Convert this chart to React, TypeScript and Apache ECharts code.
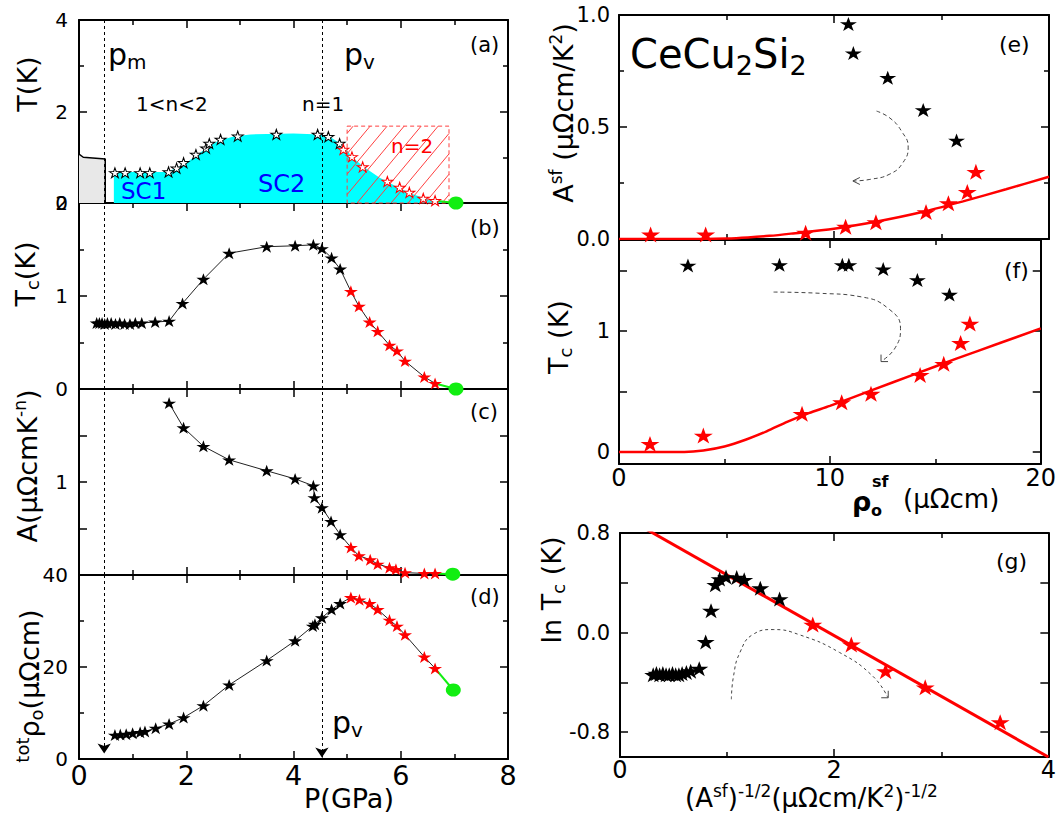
import React, { useEffect, useRef } from 'react';
import * as echarts from 'echarts';

const FF = "'DejaVu Sans', sans-serif";
const PM = 0.47;
const PV = 4.53;

// ---------- (a) phase diagram ----------
const phaseBlackP = [0.67, 0.86, 1.14, 1.32, 1.67, 1.82, 1.95, 2.18, 2.37, 2.43, 2.64, 2.96, 3.68, 4.45, 4.65, 4.86];
const phaseBlackT = [0.66, 0.66, 0.66, 0.66, 0.68, 0.76, 0.88, 1.06, 1.2, 1.3, 1.39, 1.46, 1.5, 1.5, 1.45, 1.3];
const phaseRedP = [4.93, 5.09, 5.29, 5.75, 5.98, 6.16, 6.42, 6.64];
const phaseRedT = [1.17, 1.01, 0.79, 0.47, 0.34, 0.23, 0.1, 0.05];
const scP = [0.65, 1.6, 1.8, 2.0, 2.2, 2.4, 2.6, 2.9, 3.2, 4.0, 4.5, 4.7, 4.9, 5.1, 5.3, 5.6, 5.9, 6.2, 6.5, 6.86];
const scT = [0.68, 0.68, 0.75, 0.88, 1.05, 1.22, 1.36, 1.46, 1.5, 1.52, 1.5, 1.43, 1.28, 1.0, 0.8, 0.56, 0.37, 0.2, 0.08, 0];
const afmP = [0, 0.08, 0.49, 0.49];
const afmT = [1.07, 1.0, 0.96, 0];
const hatchBox = [5.0, 6.9, 1.68];
const endPointA = [7.03, 0];

// ---------- (b) Tc ----------
const tcBlackP = [0.33, 0.38, 0.43, 0.48, 0.53, 0.6, 0.68, 0.76, 0.85, 0.95, 1.05, 1.17, 1.42, 1.68, 1.93, 2.32, 2.8, 3.5, 4.03, 4.37, 4.53, 4.71, 4.87];
const tcBlackT = [0.71, 0.71, 0.71, 0.7, 0.71, 0.71, 0.7, 0.71, 0.7, 0.7, 0.71, 0.71, 0.72, 0.73, 0.92, 1.18, 1.46, 1.53, 1.54, 1.55, 1.51, 1.41, 1.29];
const tcRedP = [5.07, 5.22, 5.42, 5.57, 5.79, 5.93, 6.08, 6.44, 6.64];
const tcRedT = [1.05, 0.89, 0.72, 0.62, 0.47, 0.41, 0.3, 0.13, 0.06];
const endPointB = [7.03, 0];

// ---------- (c) A ----------
const aBlackP = [1.68, 1.95, 2.32, 2.8, 3.5, 4.03, 4.37, 4.39, 4.53, 4.7, 4.87];
const aBlackV = [7.05, 3.83, 2.42, 1.73, 1.32, 1.08, 0.91, 0.68, 0.53, 0.377, 0.272];
const aRedP = [5.07, 5.22, 5.43, 5.57, 5.79, 5.91, 6.08, 6.44, 6.64];
const aRedV = [0.198, 0.161, 0.146, 0.131, 0.12, 0.115, 0.106, 0.104, 0.104];
const endPointC = [6.97, 0.102];

// ---------- (d) rho ----------
const rhoBlackP = [0.67, 0.77, 0.88, 1.0, 1.14, 1.23, 1.43, 1.68, 1.95, 2.32, 2.8, 3.5, 4.03, 4.36, 4.4, 4.53, 4.71, 4.87];
const rhoBlackV = [5.2, 5.3, 5.4, 5.6, 5.8, 6.0, 6.7, 7.6, 9.0, 11.6, 16.1, 21.4, 25.7, 28.9, 29.3, 30.7, 32.5, 33.8];
const rhoRedP = [5.07, 5.23, 5.42, 5.57, 5.79, 5.93, 6.08, 6.44, 6.64];
const rhoRedV = [35.1, 34.6, 33.8, 32.5, 30.2, 28.9, 27.0, 22.2, 19.7];
const endPointD = [6.98, 15.0];

// ---------- (e) A_sf vs rho_sf ----------
const eBlackX = [10.67, 10.9, 12.5, 14.15, 15.7];
const eBlackY = [0.96, 0.83, 0.72, 0.576, 0.44];
const eRedX = [1.47, 4.03, 8.68, 10.54, 11.95, 14.28, 15.32, 16.2, 16.6];
const eRedY = [0.02, 0.02, 0.028, 0.055, 0.075, 0.12, 0.16, 0.21, 0.3];
const eFitX = [0, 2, 4, 5, 6, 7, 8, 10, 12, 14, 16, 18, 20];
const eFitY = [0, 0, 0, 0.002, 0.007, 0.014, 0.024, 0.046, 0.078, 0.118, 0.168, 0.222, 0.278];
const eGuideX = [11.98, 12.6, 13.15, 13.45, 13.2, 12.6, 11.67, 10.9];
const eGuideY = [0.571, 0.54, 0.48, 0.41, 0.34, 0.29, 0.266, 0.259];

// ---------- (f) Tc vs rho_sf ----------
const fBlackX = [3.27, 7.61, 10.59, 10.9, 12.53, 14.15, 15.67];
const fBlackY = [1.54, 1.545, 1.545, 1.545, 1.51, 1.42, 1.3];
const fRedX = [1.47, 4.0, 8.68, 10.56, 11.95, 14.28, 15.4, 16.2, 16.64];
const fRedY = [0.066, 0.135, 0.314, 0.41, 0.48, 0.636, 0.727, 0.9, 1.06];
const fFitX = [0, 3.1, 4, 5, 6, 7, 8, 9, 10, 12, 14, 16, 18, 20];
const fFitY = [0, 0, 0.012, 0.045, 0.1, 0.17, 0.25, 0.32, 0.38, 0.51, 0.64, 0.77, 0.895, 1.02];
const fGuideX = [7.33, 9.5, 11.5, 12.8, 13.35, 13.1, 12.45];
const fGuideY = [1.32, 1.31, 1.28, 1.18, 1.02, 0.86, 0.75];

// ---------- (g) ln Tc vs A^-1/2 ----------
const gBlackX = [0.31, 0.34, 0.37, 0.4, 0.43, 0.46, 0.49, 0.52, 0.55, 0.58, 0.62, 0.66, 0.74, 0.8, 0.85, 0.89, 0.93, 0.99, 1.09, 1.16, 1.31, 1.49];
const gBlackY = [-0.34, -0.33, -0.34, -0.33, -0.34, -0.34, -0.33, -0.34, -0.34, -0.33, -0.32, -0.31, -0.29, -0.075, 0.176, 0.384, 0.43, 0.446, 0.443, 0.424, 0.357, 0.27];
const gRedX = [1.8, 2.16, 2.48, 2.85, 3.55];
const gRedY = [0.064, -0.096, -0.31, -0.44, -0.72];
const gFitX = [0, 4];
const gFitY = [0.95, -1.0];
const gGuideX = [1.04, 1.06, 1.12, 1.24, 1.43, 1.67, 2.05, 2.36, 2.5];
const gGuideY = [-0.536, -0.35, -0.16, -0.016, 0.024, -0.016, -0.16, -0.35, -0.52];

const STAR = 'path://M50,0 L61.2,34.5 L97.6,34.5 L68.2,55.9 L79.4,90.5 L50,69.1 L20.6,90.5 L31.8,55.9 L2.4,34.5 L38.8,34.5 Z';
const RED = '#ff0000';
const GREEN = '#11ee11';

const zip = (xs: number[], ys: number[]) => xs.map((x, i) => [x, ys[i]]);

const grids = [
  { left: 79, top: 20, width: 429, height: 183 },
  { left: 79, top: 203, width: 429, height: 186 },
  { left: 79, top: 389, width: 429, height: 186 },
  { left: 79, top: 575, width: 429, height: 184 },
  { left: 619, top: 15, width: 430, height: 224 },
  { left: 619, top: 240, width: 430, height: 224 },
  { left: 620, top: 533, width: 430, height: 224 },
];

function axisPair(dim: 'x' | 'y', grid: number, cfg: any) {
  const base = (mirror: boolean) => {
    const ax: any = {
      type: cfg.type || 'value',
      gridIndex: grid,
      min: cfg.min,
      max: cfg.max,
      position: dim === 'x' ? (mirror ? 'top' : 'bottom') : mirror ? 'right' : 'left',
      axisLine: { show: true, onZero: false, lineStyle: { color: '#000', width: 2 } },
      axisTick: { show: true, inside: true, length: 8, lineStyle: { color: '#000', width: 1.5 } },
      minorTick: { show: !!cfg.minor, splitNumber: 2, length: 5, lineStyle: { color: '#000', width: 1.5 } },
      axisLabel: {
        show: !mirror && !!cfg.label,
        fontSize: cfg.fontSize || 20,
        fontFamily: FF,
        color: '#000',
        margin: cfg.margin ?? 8,
      },
      splitLine: { show: false },
      minorSplitLine: { show: false },
    };
    if (cfg.type === 'log') ax.logBase = 10;
    if (cfg.interval !== undefined) ax.interval = cfg.interval;
    if (cfg.formatter) ax.axisLabel.formatter = cfg.formatter;
    if (cfg.tickValues) ax.axisTick.customValues = cfg.tickValues;
    if (cfg.labelValues) ax.axisLabel.customValues = cfg.labelValues;
    return ax;
  };
  return [base(false), base(true)];
}

const xAxes = [
  ...axisPair('x', 0, { min: 0, max: 8, interval: 2, minor: true }),
  ...axisPair('x', 1, { min: 0, max: 8, interval: 2, minor: true }),
  ...axisPair('x', 2, { min: 0, max: 8, interval: 2, minor: true }),
  ...axisPair('x', 3, { min: 0, max: 8, interval: 2, minor: true, label: true, fontSize: 27, margin: 3 }),
  ...axisPair('x', 4, { min: 0, max: 20, interval: 10, minor: true }),
  ...axisPair('x', 5, { min: 0, max: 20, interval: 10, minor: true, label: true, fontSize: 24, margin: 2 }),
  ...axisPair('x', 6, { min: 0, max: 4, interval: 2, minor: true, label: true, fontSize: 24, margin: 1 }),
];

const yAxes = [
  ...axisPair('y', 0, { min: 0, max: 4, interval: 2, minor: true, label: true, margin: 11 }),
  ...axisPair('y', 1, { min: 0, max: 2, interval: 1, minor: true, label: true, margin: 11 }),
  ...axisPair('y', 2, {
    type: 'log', min: 0.1, max: 10, label: true, margin: 11,
    tickValues: [0.1, 0.316, 1, 3.16, 10], labelValues: [1], formatter: () => '1',
  }),
  ...axisPair('y', 3, { min: 0, max: 40, interval: 20, minor: true, label: true, margin: 11 }),
  ...axisPair('y', 4, { min: 0, max: 1, interval: 0.5, minor: true, label: true, fontSize: 21, margin: 9, formatter: (v: number) => v.toFixed(1) }),
  ...axisPair('y', 5, {
    min: -0.1, max: 1.75, label: true, fontSize: 21, margin: 9,
    tickValues: [0, 0.5, 1, 1.5], labelValues: [0, 1], formatter: (v: number) => String(Math.round(v)),
  }),
  ...axisPair('y', 6, {
    min: -1.0, max: 0.8, label: true, fontSize: 21, margin: 10,
    tickValues: [-0.8, -0.4, 0, 0.4, 0.8], labelValues: [-0.8, 0, 0.8], formatter: (v: number) => v.toFixed(1),
  }),
];

const ax = (g: number) => ({ xAxisIndex: g * 2, yAxisIndex: g * 2 });

function stars(g: number, data: number[][], color: string, size: number[], z = 6) {
  return { type: 'scatter', ...ax(g), data, symbol: STAR, symbolSize: size, itemStyle: { color, opacity: 1 }, z, silent: true };
}
function openStars(g: number, data: number[][], edge: string) {
  return {
    type: 'scatter', ...ax(g), data, symbol: STAR, symbolSize: [11, 10],
    itemStyle: { color: '#ffffff', borderColor: edge, borderWidth: 1, opacity: 1 }, z: 6, silent: true,
  };
}
function curve(g: number, data: number[][], color: string, width: number, extra: any = {}) {
  return {
    type: 'line', ...ax(g), data, symbol: 'none', showSymbol: false, silent: true,
    lineStyle: { color, width, ...(extra.lineStyle || {}) }, z: extra.z ?? 4, smooth: extra.smooth ?? false,
    ...(extra.rest || {}),
  };
}
function dot(g: number, p: number[]) {
  return { type: 'scatter', ...ax(g), data: [p], symbol: 'circle', symbolSize: [15, 13], itemStyle: { color: GREEN, opacity: 1 }, z: 7, silent: true };
}
function arrowHead(g: number, p: number[], path: string, offset: number[]) {
  return {
    type: 'scatter', ...ax(g), data: [p], symbol: path, symbolSize: [7, 7], symbolOffset: offset,
    itemStyle: { color: 'rgba(0,0,0,0)', borderColor: '#444', borderWidth: 1, opacity: 1 }, z: 5, silent: true,
  };
}

const vLines = {
  silent: true,
  symbol: ['none', 'none'],
  label: { show: false },
  lineStyle: { color: '#000', type: [3, 3], width: 1 },
  emphasis: { disabled: true },
  data: [{ xAxis: PM }, { xAxis: PV }],
};

const hatchSeries = {
  type: 'custom',
  ...ax(0),
  data: [hatchBox],
  encode: { x: [0, 1], y: 2 },
  z: 3,
  silent: true,
  renderItem: (params: any, api: any) => {
    const a = api.coord([api.value(0), 0]);
    const b = api.coord([api.value(1), api.value(2)]);
    const L = a[0], R = b[0], B = a[1], T = b[1];
    const H = B - T;
    const slope = 1.2;
    const span = H / slope;
    const step = 17;
    const children: any[] = [];
    for (let c = L - span + 6; c < R; c += step) {
      let xa = c, ya = B, xb = c + span, yb = T;
      if (xa < L) { ya = B - slope * (L - c); xa = L; }
      if (xb > R) { yb = B - slope * (R - c); xb = R; }
      if (xb <= xa) continue;
      children.push({ type: 'line', shape: { x1: xa, y1: ya, x2: xb, y2: yb }, style: { stroke: '#ff4040', lineWidth: 1 } });
    }
    children.push({
      type: 'rect', shape: { x: L, y: T, width: R - L, height: H },
      style: { fill: 'none', stroke: '#ff4040', lineWidth: 1, lineDash: [4, 3] },
    });
    return { type: 'group', children };
  },
};

const series: any[] = [
  // (a)
  curve(0, zip(scP, scT), '#00ffff', 0, { z: 2, rest: { areaStyle: { color: '#00ffff', opacity: 1 }, markLine: vLines } }),
  curve(0, zip(afmP, afmT), '#000', 1.5, { z: 3, rest: { areaStyle: { color: '#e8e8e8', opacity: 1 } } }),
  hatchSeries,
  curve(0, [[phaseRedP[phaseRedP.length - 1], phaseRedT[phaseRedT.length - 1]], endPointA], GREEN, 2, { z: 4 }),
  openStars(0, zip(phaseBlackP, phaseBlackT), '#000'),
  openStars(0, zip(phaseRedP, phaseRedT), RED),
  dot(0, endPointA),
  // (b)
  curve(1, zip(tcBlackP, tcBlackT).concat(zip(tcRedP, tcRedT)), '#222', 1, { rest: { markLine: vLines } }),
  curve(1, [[tcRedP[tcRedP.length - 1], tcRedT[tcRedT.length - 1]], endPointB], GREEN, 2),
  stars(1, zip(tcBlackP, tcBlackT), '#000', [14, 12]),
  stars(1, zip(tcRedP, tcRedT), RED, [14, 12]),
  dot(1, endPointB),
  // (c)
  curve(2, zip(aBlackP, aBlackV).concat(zip(aRedP, aRedV)), '#222', 1, { rest: { markLine: vLines } }),
  curve(2, [[aRedP[aRedP.length - 1], aRedV[aRedV.length - 1]], endPointC], GREEN, 2),
  stars(2, zip(aBlackP, aBlackV), '#000', [14, 12]),
  stars(2, zip(aRedP, aRedV), RED, [14, 12]),
  dot(2, endPointC),
  // (d)
  curve(3, zip(rhoBlackP, rhoBlackV).concat(zip(rhoRedP, rhoRedV)), '#222', 1, {
    rest: {
      markLine: {
        ...vLines,
        symbol: ['none', 'arrow'],
        symbolSize: 10,
        data: [
          [{ coord: [PM, 40] }, { coord: [PM, 1.2] }],
          [{ coord: [PV, 40] }, { coord: [PV, 0.3] }],
        ],
      },
    },
  }),
  curve(3, [[rhoRedP[rhoRedP.length - 1], rhoRedV[rhoRedV.length - 1]], endPointD], GREEN, 2),
  stars(3, zip(rhoBlackP, rhoBlackV), '#000', [14, 12]),
  stars(3, zip(rhoRedP, rhoRedV), RED, [14, 12]),
  dot(3, endPointD),
  // (e)
  curve(4, zip(eFitX, eFitY), RED, 2.5, { smooth: 0.3 }),
  curve(4, zip(eGuideX, eGuideY), '#444', 1, { smooth: 0.5, lineStyle: { type: [4, 3] } }),
  arrowHead(4, [eGuideX[eGuideX.length - 1], eGuideY[eGuideY.length - 1]], 'path://M8,0 L0,4 L8,8', [3, 0]),
  stars(4, zip(eBlackX, eBlackY), '#000', [17, 14]),
  stars(4, zip(eRedX, eRedY), RED, [19, 16]),
  // (f)
  curve(5, zip(fFitX, fFitY), RED, 2.5, { smooth: 0.3 }),
  curve(5, zip(fGuideX, fGuideY), '#444', 1, { smooth: 0.5, lineStyle: { type: [4, 3] } }),
  arrowHead(5, [fGuideX[fGuideX.length - 1], fGuideY[fGuideY.length - 1]], 'path://M0,0 L0,8 L8,8', [3, -3]),
  stars(5, zip(fBlackX, fBlackY), '#000', [17, 14]),
  stars(5, zip(fRedX, fRedY), RED, [19, 16]),
  // (g)
  curve(6, zip(gFitX, gFitY), RED, 3),
  curve(6, zip(gGuideX, gGuideY), '#444', 1, { smooth: 0.5, lineStyle: { type: [3, 3] } }),
  arrowHead(6, [gGuideX[gGuideX.length - 1], gGuideY[gGuideY.length - 1]], 'path://M8,0 L8,8 L0,8', [-3, -3]),
  stars(6, zip(gBlackX, gBlackY), '#000', [18, 15]),
  stars(6, zip(gRedX, gRedY), RED, [19, 16]),
];

const rs = (size: number, va: string = 'middle', extra: any = {}) => ({
  fontSize: size, fontFamily: FF, fill: '#000', verticalAlign: va, ...extra,
});

function txt(x: number, y: number, text: string, size: number, color = '#000', align = 'left', extra: any = {}) {
  return {
    type: 'text', x, y, silent: true, z: 100,
    style: { text, fontSize: size, fontFamily: FF, fill: color, align, verticalAlign: 'middle', ...extra },
  };
}
function rich(x: number, y: number, text: string, richStyles: any, align = 'center', rotate = false) {
  return {
    type: 'text', x, y, silent: true, z: 100, rotation: rotate ? Math.PI / 2 : 0,
    style: { text, rich: richStyles, align, verticalAlign: 'middle' },
  };
}

const T27 = rs(27, 'middle', { lineHeight: 32 });
const graphics: any[] = [
  // left y titles
  rich(27, 84, '{t|T(K)}', { t: T27 }, 'center', true),
  rich(25, 274, '{t|T}{b|c}{t|(K)}', { t: T27, b: rs(18, 'bottom') }, 'center', true),
  rich(27, 466, '{t|A(μΩcmK}{s|-n}{t|)}', { t: T27, s: rs(17, 'top') }, 'center', true),
  rich(29, 686, '{s|tot}{t|ρ}{b|o}{t|(μΩcm)}', { t: T27, s: rs(18, 'top'), b: rs(18, 'bottom') }, 'center', true),
  // x title left
  txt(349, 798, 'P(GPa)', 27, '#000', 'center'),
  // right y titles
  rich(563, 113, '{t|A}{s|sf}{t| (μΩcm/K}{s|2}{t|)}', { t: T27, s: rs(17, 'top') }, 'center', true),
  rich(558, 337, '{t|T}{b|c}{t| (K)}', { t: T27, b: rs(18, 'bottom') }, 'center', true),
  rich(551, 590, '{t|ln T}{b|c}{t| (K)}', { t: T27, b: rs(18, 'bottom') }, 'center', true),
  // (f) x title
  txt(852, 501, 'ρ', 27, '#000', 'left', { fontWeight: 'bold' }),
  txt(871, 510, 'o', 16, '#000', 'left', { fontWeight: 'bold' }),
  txt(872, 481, 'sf', 16, '#000', 'left', { fontWeight: 'bold' }),
  txt(903, 499, '(μΩcm)', 26, '#000', 'left'),
  // (g) x title
  rich(685, 798, '{t|(A}{s|sf}{t|)}{s|-1/2}{t|(μΩcm/K}{s|2}{t|)}{s|-1/2}', { t: rs(26, 'middle', { lineHeight: 32 }), s: rs(17, 'top') }, 'left'),
  // (a) annotations
  rich(108, 54, '{p|p}{b|m}', { p: rs(30, 'middle', { lineHeight: 36 }), b: rs(20, 'bottom') }, 'left'),
  rich(344, 54, '{p|p}{b|v}', { p: rs(30, 'middle', { lineHeight: 36 }), b: rs(20, 'bottom') }, 'left'),
  txt(136, 104, '1<n<2', 20),
  txt(302, 104, 'n=1', 20),
  txt(391, 146, 'n=2', 20, RED),
  txt(121, 191, 'SC1', 23, '#0000ff'),
  txt(258, 184, 'SC2', 24, '#0000ff'),
  // (d) annotation
  rich(332, 722, '{p|p}{b|v}', { p: rs(30, 'middle', { lineHeight: 36 }), b: rs(20, 'bottom') }, 'left'),
  // panel letters
  txt(470, 45, '(a)', 21),
  txt(470, 228, '(b)', 21),
  txt(470, 412, '(c)', 21),
  txt(470, 597, '(d)', 21),
  txt(999, 44, '(e)', 22),
  txt(1004, 270, '(f)', 22),
  txt(996, 561, '(g)', 22),
  rich(630, 54, '{t|CeCu}{b|2}{t|Si}{b|2}', { t: rs(40, 'middle', { lineHeight: 50 }), b: rs(27, 'bottom') }, 'left'),
];

export default function App() {
  const ref = useRef<HTMLDivElement>(null);
  useEffect(() => {
    if (!ref.current) return;
    const chart = echarts.init(ref.current, undefined, { renderer: 'svg' });
    chart.setOption({
      animation: false,
      backgroundColor: '#ffffff',
      grid: grids,
      xAxis: xAxes,
      yAxis: yAxes,
      series,
      graphic: graphics,
    });
    return () => chart.dispose();
  }, []);
  return (
    <div
      ref={ref}
      style={{ position: 'absolute', left: 0, top: 0, width: 1059, height: 814, background: '#fff' }}
    />
  );
}
